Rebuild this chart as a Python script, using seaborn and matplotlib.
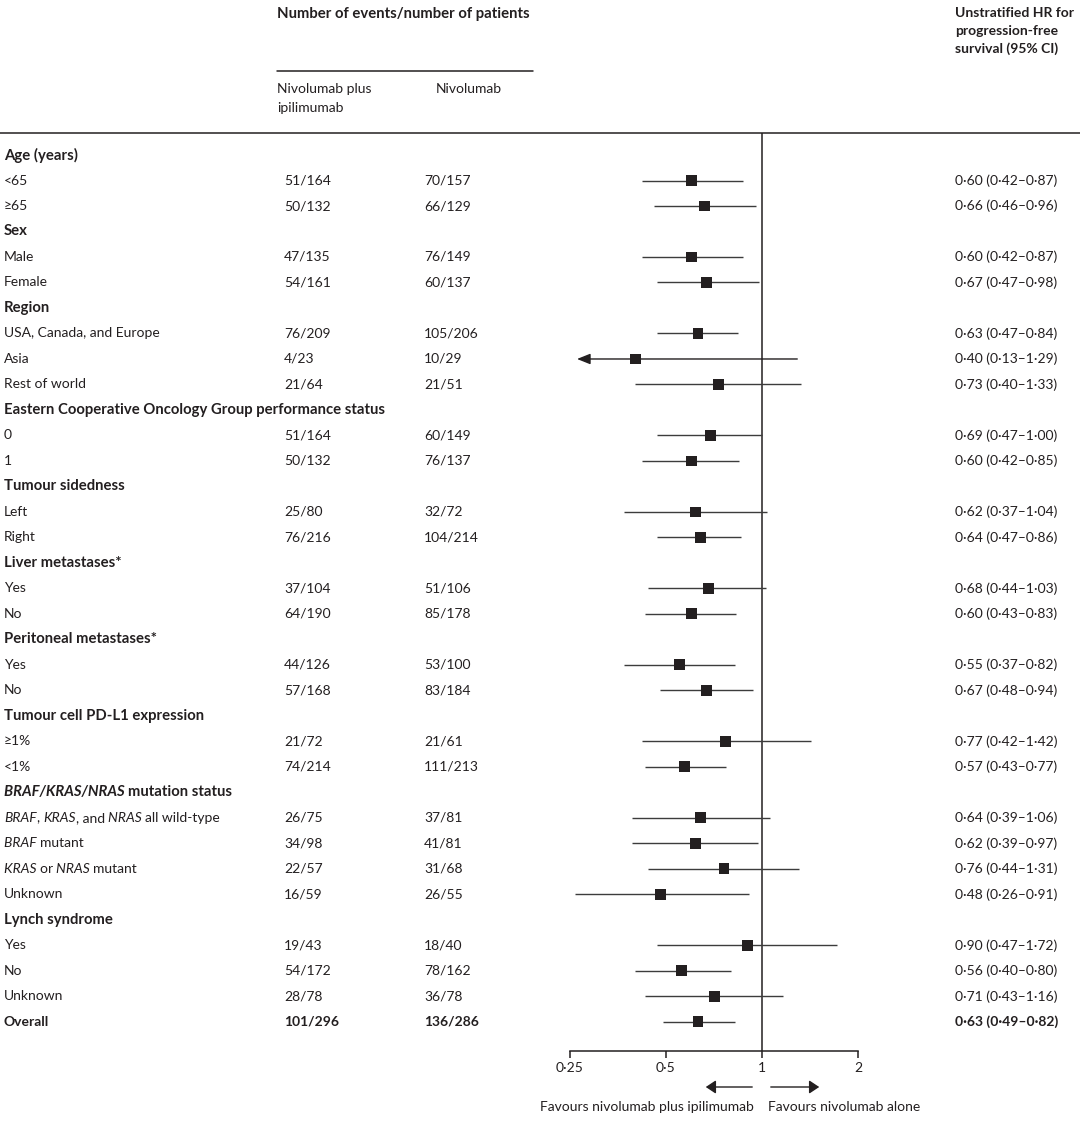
import re
import numpy as np
import pandas as pd
import matplotlib
matplotlib.use("Agg")
import matplotlib.pyplot as plt
import matplotlib.transforms as mtransforms
from matplotlib.lines import Line2D
from matplotlib.patches import FancyArrowPatch
import seaborn as sns

sns.set_style("white")
plt.rcParams['font.family'] = ['Lato', 'DejaVu Sans']

TEXT = '#231f20'
LINE = '#3c3c3c'

# rows: label, header flag, counts, HR and 95% CI (None for subgroup headers)
labels = [
    "Age (years)", "<65", "≥65",
    "Sex", "Male", "Female",
    "Region", "USA, Canada, and Europe", "Asia", "Rest of world",
    "Eastern Cooperative Oncology Group performance status", "0", "1",
    "Tumour sidedness", "Left", "Right",
    "Liver metastases*", "Yes", "No",
    "Peritoneal metastases*", "Yes", "No",
    "Tumour cell PD-L1 expression", "≥1%", "<1%",
    "BRAF/KRAS/NRAS mutation status",
    "BRAF, KRAS, and NRAS all wild-type",
    "BRAF mutant", "KRAS or NRAS mutant", "Unknown",
    "Lynch syndrome", "Yes", "No", "Unknown",
    "Overall",
]
italic_terms = ["BRAF/KRAS/NRAS", "BRAF", "KRAS", "NRAS"]
is_header = [
    1, 0, 0,
    1, 0, 0,
    1, 0, 0, 0,
    1, 0, 0,
    1, 0, 0,
    1, 0, 0,
    1, 0, 0,
    1, 0, 0,
    1, 0, 0, 0, 0,
    1, 0, 0, 0,
    0,
]
n_combo = [
    None, "51/164", "50/132",
    None, "47/135", "54/161",
    None, "76/209", "4/23", "21/64",
    None, "51/164", "50/132",
    None, "25/80", "76/216",
    None, "37/104", "64/190",
    None, "44/126", "57/168",
    None, "21/72", "74/214",
    None, "26/75", "34/98", "22/57", "16/59",
    None, "19/43", "54/172", "28/78",
    "101/296",
]
n_nivo = [
    None, "70/157", "66/129",
    None, "76/149", "60/137",
    None, "105/206", "10/29", "21/51",
    None, "60/149", "76/137",
    None, "32/72", "104/214",
    None, "51/106", "85/178",
    None, "53/100", "83/184",
    None, "21/61", "111/213",
    None, "37/81", "41/81", "31/68", "26/55",
    None, "18/40", "78/162", "36/78",
    "136/286",
]
hr = [
    None, 0.60, 0.66,
    None, 0.60, 0.67,
    None, 0.63, 0.40, 0.73,
    None, 0.69, 0.60,
    None, 0.62, 0.64,
    None, 0.68, 0.60,
    None, 0.55, 0.67,
    None, 0.77, 0.57,
    None, 0.64, 0.62, 0.76, 0.48,
    None, 0.90, 0.56, 0.71,
    0.63,
]
ci_lo = [
    None, 0.42, 0.46,
    None, 0.42, 0.47,
    None, 0.47, 0.13, 0.40,
    None, 0.47, 0.42,
    None, 0.37, 0.47,
    None, 0.44, 0.43,
    None, 0.37, 0.48,
    None, 0.42, 0.43,
    None, 0.39, 0.39, 0.44, 0.26,
    None, 0.47, 0.40, 0.43,
    0.49,
]
ci_hi = [
    None, 0.87, 0.96,
    None, 0.87, 0.98,
    None, 0.84, 1.29, 1.33,
    None, 1.00, 0.85,
    None, 1.04, 0.86,
    None, 1.03, 0.83,
    None, 0.82, 0.94,
    None, 1.42, 0.77,
    None, 1.06, 0.97, 1.31, 0.91,
    None, 1.72, 0.80, 1.16,
    0.82,
]
tick_vals = [0.25, 0.5, 1, 2]
tick_labels = ["0·25", "0·5", "1", "2"]

W, H = 1080, 1121
FS = 10
FS_HEAD = 10.7

df = pd.DataFrame({"label": labels, "header": is_header, "combo": n_combo,
                   "nivo": n_nivo, "hr": hr, "lo": ci_lo, "hi": ci_hi})
df["row"] = np.arange(len(df))
df["overall"] = df["label"] == "Overall"

fig = plt.figure(figsize=(W / 100, H / 100), dpi=100)
renderer = fig.canvas.get_renderer()

# forest panel
ax = fig.add_axes([560 / W, 1 - 1051 / H, 310 / W, (1051 - 133) / H])
ax.set_xscale('log', base=2)
ax.set_xlim(2 ** (-2 - 10 / 96), 2 ** (1 + 12 / 96))
ax.set_ylim(35.14, -0.863)

est = df.dropna(subset=["hr"]).copy()
arrow_tip = 0.263
for _, r in est.iterrows():
    if r["lo"] < 0.25:
        ax.annotate('', xy=(arrow_tip, r["row"]), xytext=(r["hi"], r["row"]),
                    arrowprops=dict(arrowstyle='-|>,head_length=0.8,head_width=0.32',
                                    color=TEXT, lw=1.0, shrinkA=0, shrinkB=0))
    else:
        ax.hlines(r["row"], r["lo"], r["hi"], color=LINE, lw=1.0)
sns.scatterplot(data=est, x="hr", y="row", marker='s', s=62, color=TEXT,
                edgecolor='none', linewidth=0, ax=ax, zorder=3, legend=False)
ax.axvline(1, color=TEXT, lw=1.1, zorder=1)

for s in ['top', 'right', 'left']:
    ax.spines[s].set_visible(False)
ax.spines['bottom'].set_bounds(0.25, 2)
ax.spines['bottom'].set_color(TEXT)
ax.spines['bottom'].set_linewidth(1.1)
ax.set_xticks(tick_vals)
ax.set_xticklabels(tick_labels)
ax.xaxis.set_minor_locator(matplotlib.ticker.NullLocator())
ax.tick_params(axis='x', direction='out', length=5, width=1.1, color=TEXT,
               labelsize=FS, labelcolor=TEXT, pad=3, bottom=True)
ax.set_yticks([])
ax.set_xlabel('')
ax.set_ylabel('')

tr = mtransforms.blended_transform_factory(fig.transFigure, ax.transData)


def text_width(s, **kw):
    # width incl. trailing spaces, measured against a bar glyph
    t1 = fig.text(0, 0, s + "|", **kw)
    t2 = fig.text(0, 0, "|", **kw)
    w = t1.get_window_extent(renderer).width - t2.get_window_extent(renderer).width
    t1.remove()
    t2.remove()
    return w


def split_italic(label):
    pat = "(" + "|".join(re.escape(t) for t in italic_terms) + ")"
    parts = [p for p in re.split(pat, label) if p]
    segs = []
    for p in parts:
        style = 'italic' if p in italic_terms else 'normal'
        # keep spaces trailing so widths can be measured
        if p.startswith(" ") and segs:
            segs[-1][0] += " "
            p = p[1:]
        segs.append([p, style])
    return segs


def draw_label(x_px, y, label, weight, size):
    x = x_px
    for seg, style in split_italic(label):
        kw = dict(fontsize=size, fontweight=weight, fontstyle=style, color=TEXT)
        fig.text(x / W, y, seg, transform=tr, ha='left', va='center', **kw)
        x += text_width(seg, **kw)


# table text
for _, r in df.iterrows():
    bold = r["header"] or r["overall"]
    w = 'bold' if bold else 'normal'
    draw_label(4, r["row"], r["label"], w, FS_HEAD if r["header"] else FS)
    if r["combo"] is not None:
        fig.text(284 / W, r["row"], r["combo"], transform=tr, ha='left', va='center',
                 fontsize=FS, fontweight=w, color=TEXT)
        fig.text(424 / W, r["row"], r["nivo"], transform=tr, ha='left', va='center',
                 fontsize=FS, fontweight=w, color=TEXT)
    if not pd.isna(r["hr"]):
        s = f"{r['hr']:.2f} ({r['lo']:.2f}–{r['hi']:.2f})".replace('.', '·')
        fig.text(955 / W, r["row"], s, transform=tr, ha='left', va='center',
                 fontsize=FS, fontweight=w, color=TEXT)

# column headers
fig.text(277 / W, 1 - 14 / H, "Number of events/number of patients", ha='left',
         va='center', fontsize=FS_HEAD, fontweight='bold', color=TEXT)
for i, line in enumerate(["Unstratified HR for", "progression-free", "survival (95% CI)"]):
    fig.text(955 / W, 1 - (13 + 18 * i) / H, line, ha='left', va='center',
             fontsize=FS, fontweight='bold', color=TEXT)
for i, line in enumerate(["Nivolumab plus", "ipilimumab"]):
    fig.text(277 / W, 1 - (89 + 19 * i) / H, line, ha='left', va='center',
             fontsize=FS, color=TEXT)
fig.text(436 / W, 1 - 89 / H, "Nivolumab", ha='left', va='center', fontsize=FS, color=TEXT)

fig.add_artist(Line2D([277 / W, 533 / W], [1 - 71 / H] * 2, color=TEXT, lw=1.1))
fig.add_artist(Line2D([0, 1], [1 - 133 / H] * 2, color=TEXT, lw=1.1))

# favours arrows
for x0, x1 in [(755, 703), (768, 822)]:
    fig.add_artist(FancyArrowPatch(
        (x0 / W, 1 - 1087 / H), (x1 / W, 1 - 1087 / H), transform=fig.transFigure,
        arrowstyle='-|>,head_length=6,head_width=4', color=TEXT, lw=1.0))
fig.text(754 / W, 1 - 1107 / H, "Favours nivolumab plus ipilimumab", ha='right',
         va='center', fontsize=FS, color=TEXT)
fig.text(768 / W, 1 - 1107 / H, "Favours nivolumab alone", ha='left',
         va='center', fontsize=FS, color=TEXT)

fig.savefig("out.png", dpi=100)
